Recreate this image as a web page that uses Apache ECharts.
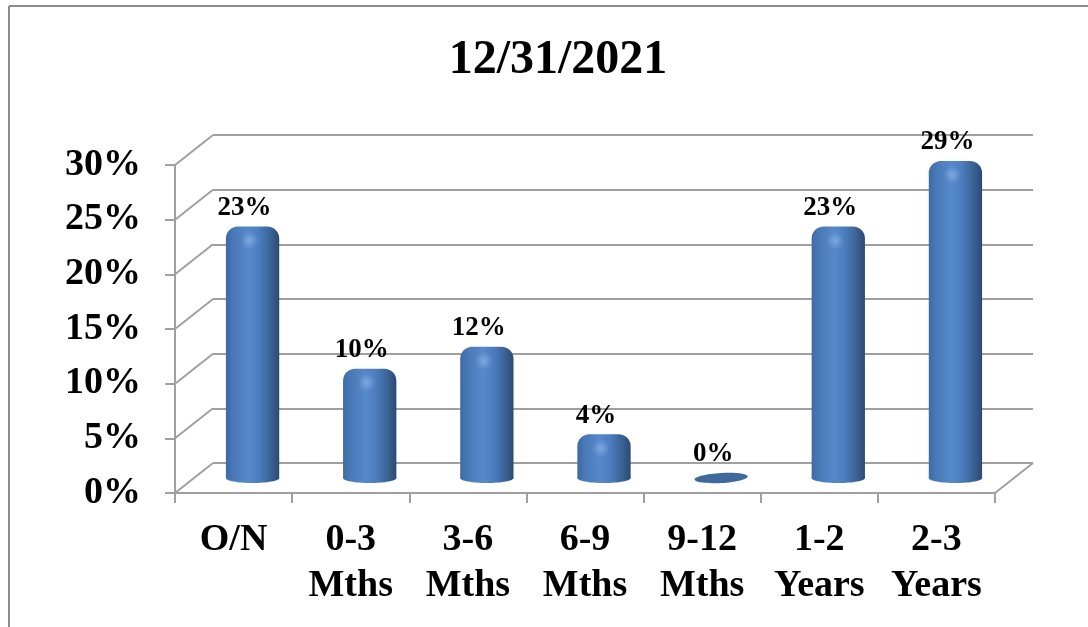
<!DOCTYPE html>
<html>
<head>
<meta charset="utf-8">
<script src="https://cdn.jsdelivr.net/npm/echarts@6/dist/echarts.min.js"></script>
<style>
  html, body { margin: 0; padding: 0; background: #ffffff; }
  #chart { width: 1088px; height: 627px; }
</style>
</head>
<body>
<div id="chart"></div>
<script>
// Maturity profile as of the year-end date
const chartTitle = '12/31/2021';
const categories = ['O/N', '0-3\nMths', '3-6\nMths', '6-9\nMths', '9-12\nMths', '1-2\nYears', '2-3\nYears'];
const shares = [23, 10, 12, 4, 0, 23, 29];          // percent of total
const yTicks = [0, 5, 10, 15, 20, 25, 30];            // percent axis ticks

// Pseudo-3D layout: front plane, bar plane (half depth) and back wall
const FONT = '"Liberation Serif", "Times New Roman", serif';
const GRID_LINE = '#A0A0A0';
const DEPTH = [38, -30];
const FRONT = { left: 175, right: 93, top: 165, bottom: 134 };

function planeAt(f) {
  return {
    left: FRONT.left + DEPTH[0] * f,
    right: FRONT.right - DEPTH[0] * f,
    top: FRONT.top + DEPTH[1] * f,
    bottom: FRONT.bottom - DEPTH[1] * f
  };
}

const yMin = yTicks[0];
const yMax = yTicks[yTicks.length - 1];
const yStep = yTicks[1] - yTicks[0];

function hiddenCategoryAxis(gridIndex) {
  return {
    type: 'category', gridIndex: gridIndex, data: categories,
    axisLine: { show: false }, axisTick: { show: false }, axisLabel: { show: false }
  };
}

function valueAxis(gridIndex, extra) {
  return Object.assign({
    type: 'value', gridIndex: gridIndex, min: yMin, max: yMax, interval: yStep,
    axisLine: { show: false }, axisTick: { show: false }, axisLabel: { show: false },
    splitLine: { show: false }
  }, extra || {});
}

const cylinderFill = () => new echarts.graphic.LinearGradient(0, 0, 1, 0, [
  { offset: 0.00, color: '#3E6AA5' },
  { offset: 0.12, color: '#4877B6' },
  { offset: 0.42, color: '#5689CB' },
  { offset: 0.62, color: '#4C7DBE' },
  { offset: 0.82, color: '#3C6598' },
  { offset: 1.00, color: '#2C4A72' }
]);

// Side wall and floor edges, drawn from each tick of the front axis
function renderFrame(params, api) {
  const v = api.value(1);
  const p = api.coord([0, v]);
  const half = api.size([1, 0])[0] / 2;
  const x = p[0] - half;
  const style = { stroke: GRID_LINE, lineWidth: 2 };
  const children = [{
    type: 'line',
    shape: { x1: x, y1: p[1], x2: x + DEPTH[0], y2: p[1] + DEPTH[1] },
    style: style
  }];
  if (v === yMin) {
    const xr = api.coord([categories.length - 1, v])[0] + half;
    children.push({
      type: 'line',
      shape: { x1: xr, y1: p[1], x2: xr + DEPTH[0], y2: p[1] + DEPTH[1] },
      style: style
    });
  }
  return { type: 'group', children: children };
}

// Rounded cylinders with their value labels
function renderCylinder(params, api) {
  const i = api.value(0);
  const v = api.value(1);
  const top = api.coord([i, v]);
  const base = api.coord([i, 0]);
  const cx = top[0];
  const w = api.size([1, 0])[0] * 0.455;
  const children = [];
  let labelY;
  if (base[1] - top[1] < 6) {
    children.push({
      type: 'ellipse',
      shape: { cx: cx, cy: base[1], rx: w / 2, ry: 5 },
      rotation: 0.06, originX: cx, originY: base[1],
      style: { fill: '#40699D' }
    });
    labelY = base[1] - 10;
  } else {
    children.push({
      type: 'ellipse',
      shape: { cx: cx, cy: base[1], rx: w / 2, ry: 5 },
      style: { fill: cylinderFill() }
    });
    children.push({
      type: 'rect',
      shape: { x: cx - w / 2, y: top[1], width: w, height: base[1] - top[1], r: [12, 12, 0, 0] },
      style: { fill: cylinderFill() }
    });
    children.push({
      type: 'ellipse',
      shape: { cx: cx - 3, cy: top[1] + 14, rx: 11, ry: 9 },
      style: {
        fill: new echarts.graphic.RadialGradient(0.5, 0.5, 0.5, [
          { offset: 0, color: 'rgba(175,205,245,0.45)' },
          { offset: 1, color: 'rgba(175,205,245,0)' }
        ])
      }
    });
    labelY = top[1] - 5;
  }
  children.push({
    type: 'text',
    style: {
      text: v + '%', x: cx - 8, y: labelY,
      align: 'center', verticalAlign: 'bottom',
      font: 'bold 27px ' + FONT, fill: '#000000'
    }
  });
  return { type: 'group', children: children };
}

const chart = echarts.init(document.getElementById('chart'), null, { renderer: 'canvas' });

chart.setOption({
  animation: false,
  backgroundColor: '#ffffff',
  title: {
    text: chartTitle, left: 553, top: 32, textAlign: 'center',
    textStyle: { fontFamily: FONT, fontWeight: 'bold', fontSize: 48, color: '#000000' }
  },
  grid: [
    Object.assign({ containLabel: false }, FRONT),
    Object.assign({ containLabel: false }, planeAt(0.5)),
    Object.assign({ containLabel: false }, planeAt(1))
  ],
  xAxis: [
    {
      type: 'category', gridIndex: 0, data: categories,
      axisLine: { lineStyle: { color: GRID_LINE, width: 2 } },
      axisTick: { show: true, length: 10, lineStyle: { color: GRID_LINE, width: 2 } },
      axisLabel: {
        margin: 24, interval: 0,
        fontFamily: FONT, fontWeight: 'bold', fontSize: 38, lineHeight: 46, color: '#000000'
      }
    },
    hiddenCategoryAxis(1),
    hiddenCategoryAxis(2)
  ],
  yAxis: [
    valueAxis(0, {
      axisLine: { show: true, lineStyle: { color: GRID_LINE, width: 2 } },
      axisTick: { show: true, length: 10, lineStyle: { color: GRID_LINE, width: 2 } },
      axisLabel: {
        show: true, margin: 34, formatter: '{value}%',
        fontFamily: FONT, fontWeight: 'bold', fontSize: 38, color: '#000000'
      }
    }),
    valueAxis(1),
    valueAxis(2, { splitLine: { show: true, lineStyle: { color: GRID_LINE, width: 2 } } })
  ],
  graphic: [
    { type: 'line', shape: { x1: 9, y1: 6, x2: 1088, y2: 6 }, style: { stroke: '#8C8C8C', lineWidth: 2 } },
    { type: 'line', shape: { x1: 9, y1: 6, x2: 9, y2: 627 }, style: { stroke: '#8C8C8C', lineWidth: 2 } }
  ],
  series: [
    {
      type: 'custom', name: 'frame', xAxisIndex: 0, yAxisIndex: 0,
      clip: false, silent: true, z: 1,
      encode: { x: 0, y: 1 },
      data: yTicks.map(t => [0, t]),
      renderItem: renderFrame
    },
    {
      type: 'custom', name: 'share', xAxisIndex: 1, yAxisIndex: 1,
      clip: false, z: 3,
      encode: { x: 0, y: 1 },
      data: shares.map((v, i) => [i, v]),
      renderItem: renderCylinder
    }
  ]
});
</script>
</body>
</html>
